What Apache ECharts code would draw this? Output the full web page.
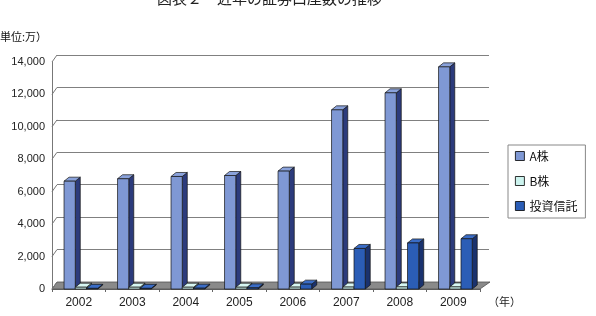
<!DOCTYPE html>
<html>
<head>
<meta charset="utf-8">
<script src="https://cdn.jsdelivr.net/npm/echarts@6/dist/echarts.min.js"></script>
<style>
  html, body { margin: 0; padding: 0; background: #fff; }
  #chart { width: 596px; height: 316px; }
</style>
</head>
<body>
<div id="chart"></div>
<script>
// 年
var years = ['2002', '2003', '2004', '2005', '2006', '2007', '2008', '2009']
// 単位：万
var aShares = [6650, 6800, 6940, 7000, 7270, 11050, 12100, 13700]
var bShares = [110, 110, 110, 110, 115, 120, 130, 130]
var funds = [40, 40, 50, 70, 300, 2500, 2840, 3100]
var yTicks = [0, 2000, 4000, 6000, 8000, 10000, 12000, 14000]

var seriesNames = ['A株', 'B株', '投資信託']
// 正面・側面・上面
var palette = [
  { front: '#7f98d4', side: '#2c3b7c', top: '#8aa2db' },
  { front: '#ccf3ee', side: '#86bdb5', top: '#d8f7f3' },
  { front: '#2b5db6', side: '#1a326e', top: '#3a6cc6' }
]

var DX = 5, DY = 4 // 棒の奥行き

function barItem(idx) {
  return function (params, api) {
    var ci = api.value(0)
    var base = api.coord([ci, 0])
    var top = api.coord([ci, api.value(1)])
    var band = api.size([1, 0])[0]
    var w = band * 0.21
    var x0 = base[0] - band * 0.275 + idx * w
    var x1 = x0 + w
    var c = palette[idx]
    var line = { stroke: '#141414', lineWidth: 0.7 }
    return {
      type: 'group',
      children: [
        { type: 'polygon', shape: { points: [[x1, top[1]], [x1 + DX, top[1] - DY], [x1 + DX, base[1] - DY], [x1, base[1]]] },
          style: Object.assign({ fill: c.side }, line) },
        { type: 'polygon', shape: { points: [[x0, top[1]], [x0 + DX, top[1] - DY], [x1 + DX, top[1] - DY], [x1, top[1]]] },
          style: Object.assign({ fill: c.top }, line) },
        { type: 'rect', shape: { x: x0, y: top[1], width: w, height: base[1] - top[1] },
          style: Object.assign({ fill: c.front }, line) }
      ]
    }
  }
}

// 床と左壁の斜線
function floorItem(params, api) {
  var band = api.size([1, 0])[0]
  var l = api.coord([0, 0])[0] - band / 2
  var r = api.coord([years.length - 1, 0])[0] + band / 2
  var y0 = api.coord([0, 0])[1]
  var kids = [{
    type: 'polygon',
    shape: { points: [[l, y0], [r, y0], [r + 10, y0 - 7], [l + 5, y0 - 7]] },
    style: { fill: '#8a8a8a', stroke: '#505050', lineWidth: 0.8 }
  }]
  yTicks.forEach(function (v) {
    var y = api.coord([0, v])[1]
    kids.push({ type: 'line', shape: { x1: l, y1: y, x2: l + 5, y2: y - 7 }, style: { stroke: '#777', lineWidth: 1 } })
  })
  return { type: 'group', children: kids }
}

function toData(arr) {
  return arr.map(function (v, i) { return [i, v] })
}

var chart = echarts.init(document.getElementById('chart'))
var option = {
  animation: false,
  textStyle: { fontFamily: 'Liberation Sans, Arial, sans-serif' },
  grid: [
    { left: 52, right: 116, top: 62, bottom: 27 },
    { left: 57, right: 107, top: 55, bottom: 34 }
  ],
  legend: {
    orient: 'vertical',
    left: 508,
    top: 145,
    padding: [5, 8, 6, 7],
    itemGap: 13,
    itemWidth: 9,
    itemHeight: 9,
    icon: 'rect',
    borderColor: '#888',
    borderWidth: 1,
    itemStyle: { borderColor: '#000', borderWidth: 0.8 },
    textStyle: { fontSize: 12, color: '#111', fontFamily: 'Noto Sans CJK JP' },
    data: seriesNames
  },
  xAxis: [
    {
      type: 'category', gridIndex: 0, data: years,
      axisLine: { show: true, lineStyle: { color: '#666' } },
      axisTick: { show: true, length: 3, lineStyle: { color: '#666' } },
      axisLabel: { fontSize: 12, color: '#222', margin: 8 }
    },
    { type: 'category', gridIndex: 1, data: years, show: false }
  ],
  yAxis: [
    {
      type: 'value', gridIndex: 0, min: 0, max: 14000, interval: 2000,
      axisLine: { show: true, lineStyle: { color: '#777' } },
      axisTick: { show: false },
      splitLine: { show: false },
      axisLabel: {
        fontSize: 11, color: '#222', margin: 7, padding: [8, 0, 0, 0],
        formatter: function (v) { return v.toLocaleString('en-US') }
      }
    },
    {
      type: 'value', gridIndex: 1, min: 0, max: 14000, interval: 2000,
      axisLine: { show: false }, axisTick: { show: false }, axisLabel: { show: false },
      splitLine: { show: true, lineStyle: { color: '#808080', width: 1 } }
    }
  ],
  graphic: [
    { type: 'text', left: 157, top: -9, style: { text: '図表２　近年の証券口座数の推移', font: '15px "Noto Sans CJK JP"', fill: '#222' } },
    { type: 'text', left: 0, top: 31, style: { text: '単位:万）', font: '11px "Noto Sans CJK JP"', fill: '#111' } },
    { type: 'text', left: 488, top: 296, style: { text: '（年）', font: '11px "Noto Sans CJK JP"', fill: '#222' } }
  ],
  series: [
    { type: 'custom', name: 'floor', xAxisIndex: 0, yAxisIndex: 0, renderItem: floorItem, data: [[0, 0]], silent: true, z: 1 },
    { type: 'custom', name: seriesNames[0], xAxisIndex: 0, yAxisIndex: 0, renderItem: barItem(0), data: toData(aShares), itemStyle: { color: palette[0].front }, encode: { x: 0, y: 1 }, z: 2 },
    { type: 'custom', name: seriesNames[1], xAxisIndex: 0, yAxisIndex: 0, renderItem: barItem(1), data: toData(bShares), itemStyle: { color: palette[1].front }, encode: { x: 0, y: 1 }, z: 3 },
    { type: 'custom', name: seriesNames[2], xAxisIndex: 0, yAxisIndex: 0, renderItem: barItem(2), data: toData(funds), itemStyle: { color: palette[2].front }, encode: { x: 0, y: 1 }, z: 4 }
  ]
}
chart.setOption(option)
</script>
</body>
</html>
